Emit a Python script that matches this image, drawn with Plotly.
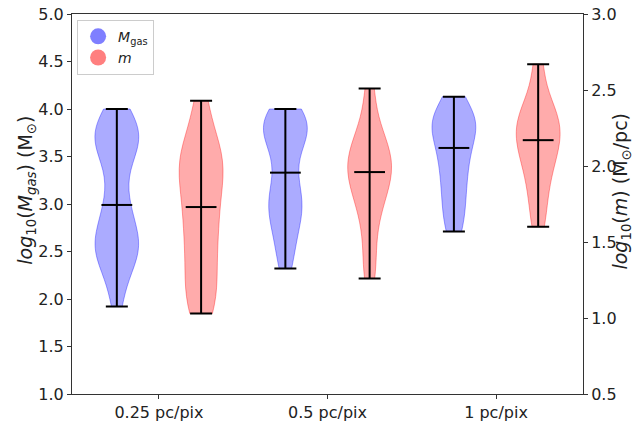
import numpy as np
import plotly.graph_objects as go

categories = ["0.25 pc/pix", "0.5 pc/pix", "1 pc/pix"]
cat_pos = [1, 2, 3]

# log10(M_gas) samples per resolution (left axis)
mgas_025 = [1.92, 2.15, 2.3, 2.4, 2.45, 2.5, 2.55, 2.6, 2.65, 2.7, 2.8, 2.9, 2.99,
            3.1, 3.3, 3.45, 3.55, 3.6, 3.65, 3.7, 3.75, 3.8, 3.85, 3.9, 4.0]
mgas_05 = [2.32, 2.5, 2.65, 2.78, 2.88, 2.95, 3.02, 3.1, 3.2, 3.33, 3.5, 3.62,
           3.7, 3.75, 3.8, 3.85, 3.9, 3.95, 4.0]
mgas_1 = [2.71, 2.88, 3.05, 3.2, 3.35, 3.48, 3.59, 3.72, 3.8, 3.86, 3.9, 3.95, 4.13]

# log10(m) samples per resolution (right axis)
m_025 = [1.03, 1.09, 1.18, 1.28, 1.38, 1.48, 1.57, 1.66, 1.73, 1.83, 1.91, 1.97,
         2.02, 2.07, 2.13, 2.24, 2.43]
m_05 = [1.26, 1.42, 1.6, 1.72, 1.8, 1.86, 1.91, 1.96, 2.0, 2.04, 2.08, 2.13, 2.2, 2.3, 2.51]
m_1 = [1.6, 1.75, 1.88, 1.98, 2.06, 2.12, 2.17, 2.22, 2.27, 2.31, 2.36, 2.45, 2.67]

mgas_sets = [mgas_025, mgas_05, mgas_1]
m_sets = [m_025, m_05, m_1]

BLUE_FILL = "rgba(0,0,255,0.33)"
BLUE_LINE = "rgba(0,0,255,0.35)"
RED_FILL = "rgba(255,0,0,0.33)"
RED_LINE = "rgba(255,0,0,0.35)"
OFFSET = 0.25
VW = 0.26

fig = go.Figure()


def add_violin(samples, pos, fill, line, yaxis, bw):
    fig.add_trace(go.Violin(
        y=samples, x0=pos, width=VW, spanmode="hard", scalemode="width",
        fillcolor=fill, line=dict(color=line, width=1), points=False,
        box_visible=False, meanline_visible=False, bandwidth=bw,
        showlegend=False, hoverinfo="skip", yaxis=yaxis, side="both"))
    med = float(np.median(samples))
    lo, hi = float(np.min(samples)), float(np.max(samples))
    fig.add_trace(go.Scatter(
        x=[pos], y=[med], mode="markers", yaxis=yaxis, showlegend=False,
        marker=dict(symbol="line-ew", size=22, line=dict(color="black", width=2)),
        error_y=dict(type="data", symmetric=False, array=[hi - med],
                     arrayminus=[med - lo], width=11, thickness=2, color="black"),
        hoverinfo="skip"))


for p, s, bw in zip(cat_pos, mgas_sets, [0.22, 0.2, 0.2]):
    add_violin(s, p - OFFSET, BLUE_FILL, BLUE_LINE, "y", bw)
for p, s, bw in zip(cat_pos, m_sets, [0.17, 0.14, 0.14]):
    add_violin(s, p + OFFSET, RED_FILL, RED_LINE, "y2", bw)

# legend entries
fig.add_trace(go.Scatter(x=[None], y=[None], mode="markers", name="<i>M</i><sub>gas</sub>",
                         marker=dict(color="rgba(0,0,255,0.5)", size=20)))
fig.add_trace(go.Scatter(x=[None], y=[None], mode="markers", name="<i>m</i>",
                         marker=dict(color="rgba(255,0,0,0.5)", size=20)))

AX = "#333333"
FONT = "DejaVu Sans"
TF = 16
fig.update_layout(
    width=642, height=422,
    margin=dict(l=72, r=59, t=14, b=28, autoexpand=False),
    paper_bgcolor="white", plot_bgcolor="white",
    violinmode="overlay",
    font=dict(family=FONT, size=TF, color="#222222"),
    showlegend=True,
    legend=dict(x=0.01, y=0.985, xanchor="left", yanchor="top",
                bgcolor="rgba(255,255,255,0.8)", bordercolor="#cccccc", borderwidth=1,
                font=dict(family=FONT, size=14), tracegroupgap=0),
    xaxis=dict(range=[0.484, 3.516], tickvals=cat_pos, ticktext=categories,
               showline=True, linecolor=AX, linewidth=1, mirror=True,
               ticks="outside", ticklen=4, tickcolor=AX, showgrid=False,
               zeroline=False, tickfont=dict(size=TF), automargin=False),
    yaxis=dict(range=[1.0, 5.0], dtick=0.5, tickformat=".1f",
               showline=True, linecolor=AX, linewidth=1,
               ticks="outside", ticklen=4, tickcolor=AX, showgrid=False,
               zeroline=False, tickfont=dict(size=TF), automargin=False),
    yaxis2=dict(range=[0.5, 3.0], dtick=0.5, tickformat=".1f", overlaying="y", side="right",
                showline=True, linecolor=AX, linewidth=1,
                ticks="outside", ticklen=4, tickcolor=AX, showgrid=False,
                zeroline=False, tickfont=dict(size=TF), automargin=False),
    annotations=[
        dict(text="<i>log</i><sub>10</sub>(<i>M</i><sub><i>gas</i></sub>) (M<sub>⊙</sub>)",
             textangle=-90, xref="paper", yref="paper", x=-0.088, y=0.535,
             xanchor="center", yanchor="middle", showarrow=False,
             font=dict(family=FONT, size=19, color="#222222")),
        dict(text="<i>log</i><sub>10</sub>(<i>m</i>) (M<sub>⊙</sub>/pc)",
             textangle=-90, xref="paper", yref="paper", x=1.076, y=0.535,
             xanchor="center", yanchor="middle", showarrow=False,
             font=dict(family=FONT, size=19, color="#222222")),
    ],
)

fig.write_html("out.html", config={"displayModeBar": False},
               post_script="document.body.style.margin='0';")
